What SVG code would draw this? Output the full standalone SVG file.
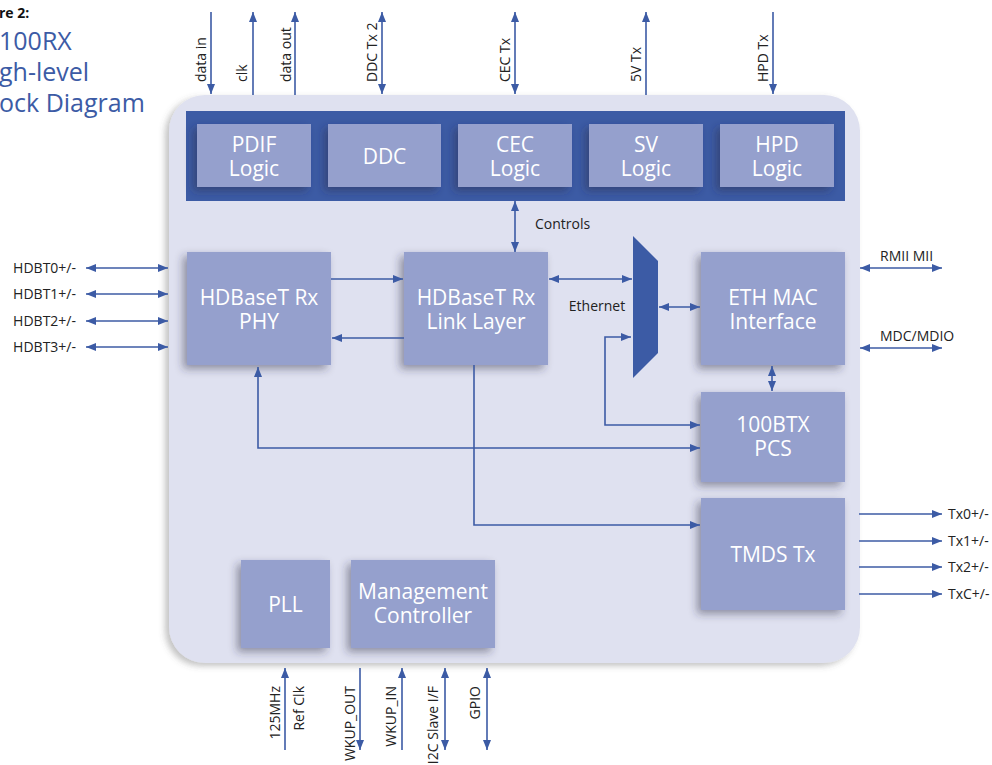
<svg xmlns="http://www.w3.org/2000/svg" width="992" height="765" viewBox="0 0 992 765">
<defs>
<style>
.t{font-family:"Open Sans","Noto Sans","DejaVu Sans",sans-serif}
.bx{fill:#95A0CD;filter:url(#sh)}
.bt{font-family:"Open Sans","Noto Sans","DejaVu Sans",sans-serif;font-size:21px;fill:#fff;text-anchor:middle}
.lb{font-family:"Open Sans","Noto Sans","DejaVu Sans",sans-serif;font-size:14px;fill:#222}
.ln{fill:none;stroke:#3C5BA5;stroke-width:1.6}
.ae{marker-end:url(#ah)}
.as{marker-start:url(#ah)}
.ttl{font-family:"Open Sans","Noto Sans","DejaVu Sans",sans-serif;font-size:25px;fill:#3C5BA5}
</style>
<marker id="ah" viewBox="0 0 10 8" refX="10" refY="4" markerWidth="10" markerHeight="8" markerUnits="userSpaceOnUse" orient="auto-start-reverse">
<path d="M0,0 L10,4 L0,8 z" fill="#3C5BA5"/>
</marker>
<filter id="sh" x="-20%" y="-20%" width="140%" height="140%">
<feDropShadow dx="-4" dy="4" stdDeviation="4" flood-color="#2a2f45" flood-opacity="0.45"/>
</filter>
<filter id="psh" x="-5%" y="-5%" width="110%" height="110%">
<feDropShadow dx="-4" dy="3" stdDeviation="3" flood-color="#555" flood-opacity="0.35"/>
</filter>
</defs>
<rect width="992" height="765" fill="#fff"/>
<!-- title -->
<g id="title">
<text x="-1" y="18" class="t" font-size="14" font-weight="bold" fill="#111">re 2:</text>
<text x="-1" y="50" class="ttl">100RX</text>
<text x="-1" y="81" class="ttl">gh-level</text>
<text x="-1" y="112" class="ttl">ock Diagram</text>
</g>
<!-- panel -->
<g id="panel">
<rect x="169" y="95" width="691" height="568" rx="36" fill="#DFE1F0" filter="url(#psh)"/>
<rect x="186" y="111" width="659" height="90" fill="#3C5BA5"/>
</g>
<!-- nodes -->
<g id="pdif"><rect class="bx" x="197" y="124" width="114" height="63"/><text class="bt" x="254" y="152">PDIF</text><text class="bt" x="254" y="176">Logic</text></g>
<g id="ddc"><rect class="bx" x="328" y="124" width="113" height="63"/><text class="bt" x="384.5" y="164">DDC</text></g>
<g id="cec"><rect class="bx" x="458" y="124" width="114" height="63"/><text class="bt" x="515" y="152">CEC</text><text class="bt" x="515" y="176">Logic</text></g>
<g id="sv"><rect class="bx" x="589" y="124" width="114" height="63"/><text class="bt" x="646" y="152">SV</text><text class="bt" x="646" y="176">Logic</text></g>
<g id="hpd"><rect class="bx" x="720" y="124" width="114" height="63"/><text class="bt" x="777" y="152">HPD</text><text class="bt" x="777" y="176">Logic</text></g>
<g id="phy"><rect class="bx" x="187" y="252" width="144" height="113"/><text class="bt" x="259" y="305">HDBaseT Rx</text><text class="bt" x="259" y="329">PHY</text></g>
<g id="link"><rect class="bx" x="404" y="252" width="144" height="113"/><text class="bt" x="476" y="305">HDBaseT Rx</text><text class="bt" x="476" y="329">Link Layer</text></g>
<g id="mux"><polygon points="633,236 658,261 658,353 633,378" fill="#3C5BA5"/></g>
<g id="ethmac"><rect class="bx" x="701" y="252" width="144" height="113"/><text class="bt" x="773" y="305">ETH MAC</text><text class="bt" x="773" y="329">Interface</text></g>
<g id="pcs"><rect class="bx" x="701" y="392" width="144" height="90"/><text class="bt" x="773" y="432">100BTX</text><text class="bt" x="773" y="456">PCS</text></g>
<g id="tmds"><rect class="bx" x="701" y="498" width="144" height="112"/><text class="bt" x="773" y="562">TMDS Tx</text></g>
<g id="pll"><rect class="bx" x="241" y="560" width="89" height="88"/><text class="bt" x="285.5" y="612">PLL</text></g>
<g id="mgmt"><rect class="bx" x="351" y="560" width="144" height="88"/><text class="bt" x="423" y="599">Management</text><text class="bt" x="423" y="623">Controller</text></g>
<!-- connectors -->
<g id="connectors">
<path class="ln ae" d="M211,12 V94"/>
<path class="ln ae" d="M253,95 V12"/>
<path class="ln ae" d="M295,95 V12"/>
<path class="ln ae as" d="M382,12 V94"/>
<path class="ln ae as" d="M515,12 V94"/>
<path class="ln ae" d="M646,95 V12"/>
<path class="ln ae" d="M773,12 V94"/>
<path class="ln ae as" d="M86,268 H168"/>
<path class="ln ae as" d="M86,294 H168"/>
<path class="ln ae as" d="M86,321 H168"/>
<path class="ln ae as" d="M86,347 H168"/>
<path class="ln ae" d="M331,279 H403"/>
<path class="ln ae" d="M404,338 H332"/>
<path class="ln ae as" d="M549,279 H632"/>
<path class="ln ae as" d="M515,201 V252"/>
<path class="ln ae as" d="M659,307 H700"/>
<path class="ln ae as" d="M772,366 V391"/>
<path class="ln ae as" d="M631,337 H605 V425 H700"/>
<path class="ln ae as" d="M258,367 V448 H700"/>
<path class="ln ae" d="M474,365 V525 H700"/>
<path class="ln ae as" d="M860,268 H942"/>
<path class="ln ae as" d="M860,348 H942"/>
<path class="ln ae" d="M859,514 H942"/>
<path class="ln ae" d="M859,541 H942"/>
<path class="ln ae" d="M859,567 H942"/>
<path class="ln ae" d="M859,594 H942"/>
<path class="ln ae" d="M285,750 V668"/>
<path class="ln ae" d="M360,668 V750"/>
<path class="ln ae" d="M402,750 V668"/>
<path class="ln ae as" d="M445,668 V750"/>
<path class="ln ae as" d="M487,668 V750"/>
</g>
<!-- labels -->
<g id="labels">
<text class="lb" transform="translate(206,82) rotate(-90)">data in</text>
<text class="lb" transform="translate(247,82) rotate(-90)">clk</text>
<text class="lb" transform="translate(291,82) rotate(-90)">data out</text>
<text class="lb" transform="translate(377,82) rotate(-90)">DDC Tx 2</text>
<text class="lb" transform="translate(510,82) rotate(-90)">CEC Tx</text>
<text class="lb" transform="translate(641,82) rotate(-90)">5V Tx</text>
<text class="lb" transform="translate(768,82) rotate(-90)">HPD Tx</text>
<text class="lb" x="76" y="273" text-anchor="end">HDBT0+/-</text>
<text class="lb" x="76" y="299" text-anchor="end">HDBT1+/-</text>
<text class="lb" x="76" y="326" text-anchor="end">HDBT2+/-</text>
<text class="lb" x="76" y="352" text-anchor="end">HDBT3+/-</text>
<text class="lb" x="535" y="229">Controls</text>
<text class="lb" x="597" y="311" text-anchor="middle">Ethernet</text>
<text class="lb" x="880" y="261">RMII MII</text>
<text class="lb" x="880" y="341">MDC/MDIO</text>
<text class="lb" x="948" y="519">Tx0+/-</text>
<text class="lb" x="948" y="546">Tx1+/-</text>
<text class="lb" x="948" y="572">Tx2+/-</text>
<text class="lb" x="948" y="599">TxC+/-</text>
<text class="lb" text-anchor="end" transform="translate(280,686) rotate(-90)">125MHz</text>
<text class="lb" text-anchor="end" transform="translate(304,686) rotate(-90)">Ref Clk</text>
<text class="lb" text-anchor="end" transform="translate(355,686) rotate(-90)">WKUP_OUT</text>
<text class="lb" text-anchor="end" transform="translate(396,686) rotate(-90)">WKUP_IN</text>
<text class="lb" text-anchor="end" transform="translate(438,686) rotate(-90)">I2C Slave I/F</text>
<text class="lb" text-anchor="end" transform="translate(480,686) rotate(-90)">GPIO</text>
</g>
</svg>
